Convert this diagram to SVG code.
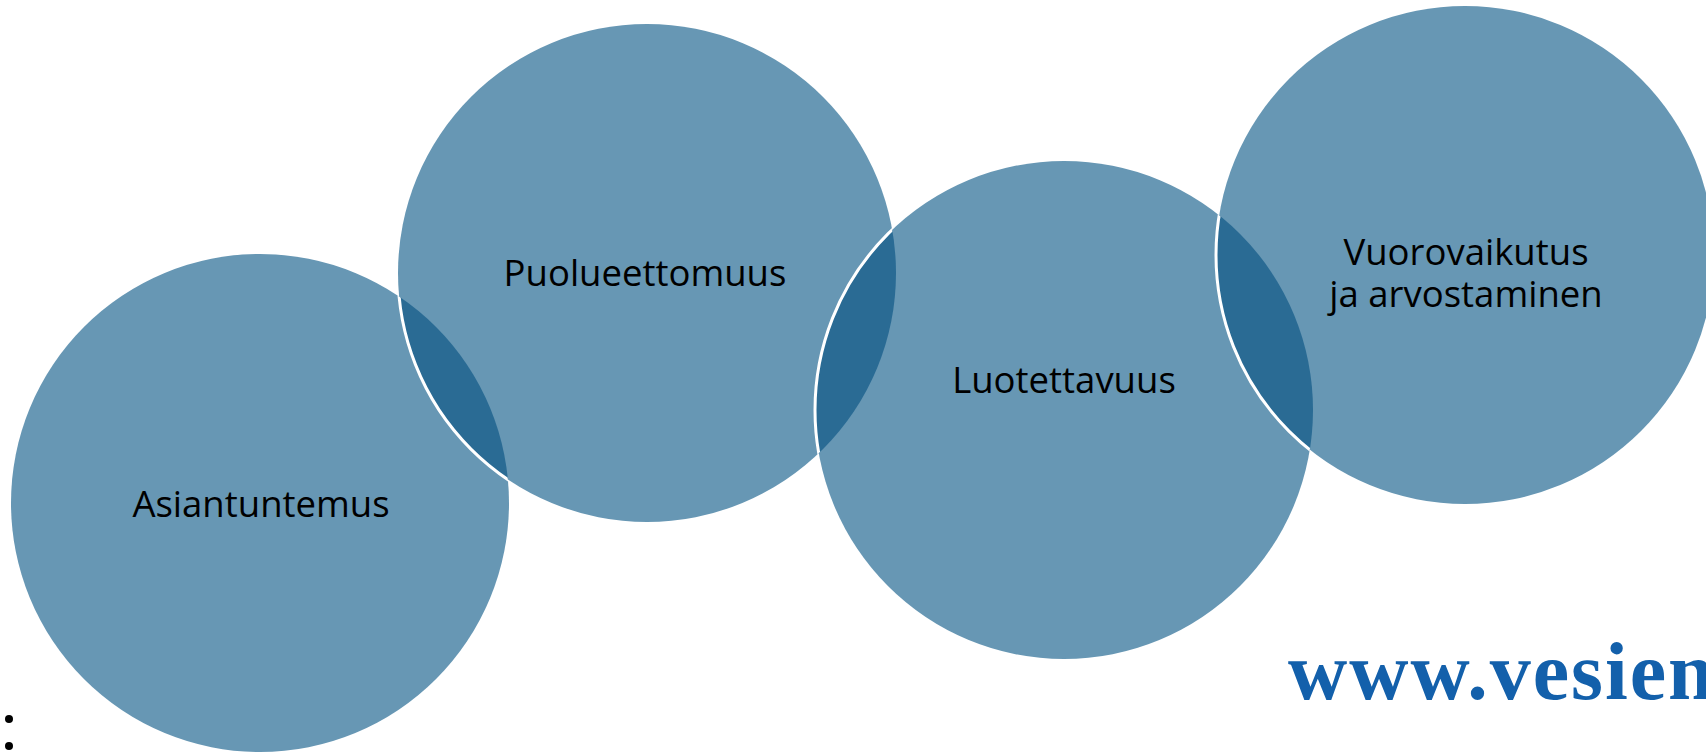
<svg xmlns="http://www.w3.org/2000/svg" width="1706" height="752" viewBox="0 0 1706 752">
<style>
.c{fill:#6797b4}
.lens{fill:#2a6b94}
.edge{fill:none;stroke:#ffffff;stroke-width:3}
.t{font-family:"Open Sans","Noto Sans",sans-serif;font-size:36.5px;fill:#000;text-anchor:middle}
.url{font-family:"Liberation Serif","Times New Roman",serif;font-weight:bold;font-size:82px;letter-spacing:2px;fill:#1360ab}
</style>
<defs>
<circle id="c1" cx="260" cy="503" r="249"/>
<circle id="c2" cx="647" cy="273" r="249"/>
<circle id="c3" cx="1064" cy="410" r="249"/>
<circle id="c4" cx="1465" cy="255" r="249"/>
<clipPath id="k1"><use href="#c1"/></clipPath>
<clipPath id="k2"><use href="#c2"/></clipPath>
<clipPath id="k3"><use href="#c3"/></clipPath>
</defs>
<rect width="1706" height="752" fill="#ffffff"/>
<g id="node-asiantuntemus"><use href="#c1" class="c"/></g>
<g id="node-puolueettomuus"><use href="#c2" class="c"/></g>
<g id="node-luotettavuus"><use href="#c3" class="c"/></g>
<g id="node-vuorovaikutus"><use href="#c4" class="c"/></g>
<g id="overlaps">
<use href="#c2" class="lens" clip-path="url(#k1)"/>
<use href="#c3" class="lens" clip-path="url(#k2)"/>
<use href="#c4" class="lens" clip-path="url(#k3)"/>
<use href="#c2" class="edge" clip-path="url(#k1)"/>
<use href="#c3" class="edge" clip-path="url(#k2)"/>
<use href="#c4" class="edge" clip-path="url(#k3)"/>
</g>
<g id="labels">
<text class="t" x="261" y="517">Asiantuntemus</text>
<text class="t" x="645" y="286">Puolueettomuus</text>
<text class="t" x="1064" y="393">Luotettavuus</text>
<text class="t" x="1466" y="265">Vuorovaikutus</text>
<text class="t" x="1466" y="307">ja arvostaminen</text>
</g>
<text class="url" x="1288" y="699">www.vesien</text>
<circle cx="9" cy="719" r="4" fill="#000"/>
<circle cx="9" cy="746" r="4" fill="#000"/>
</svg>
